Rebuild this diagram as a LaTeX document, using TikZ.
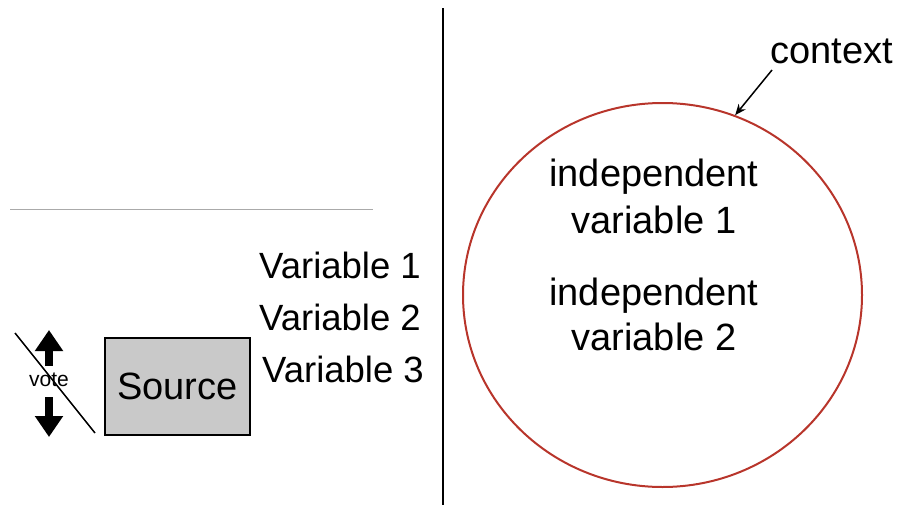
\documentclass[tikz,border=0pt]{standalone}
\usepackage{fontspec}
\setmainfont{Liberation Sans}
\usetikzlibrary{arrows.meta,shapes.geometric}
\definecolor{ctxred}{HTML}{B8352B}
\definecolor{srcgray}{HTML}{C9C9C9}
\definecolor{rulegray}{HTML}{AAAAAA}
\begin{document}
\begin{tikzpicture}[x=1pt,y=-1pt,
  lbl/.style={inner sep=0pt, font=\fontsize{38}{47}\selectfont},
  varlbl/.style={inner sep=0pt, font=\fontsize{36.5}{52}\selectfont, align=left},
  bigarrow/.style={-{Triangle[length=21pt,width=27pt]}, line width=7.5pt},
  thinline/.style={line width=1.5pt}]
\useasboundingbox (0,0) rectangle (899,506);
% separators
\draw[line width=2pt] (443,8) -- (443,505);
\draw[rulegray, line width=1pt] (10,209) -- (373,209);
% source box
\node[draw=black, line width=1.5pt, fill=srcgray, minimum width=145pt, minimum height=97pt,
      inner sep=0pt, font=\fontsize{38}{46}\selectfont] (src) at (177.5,386.5) {Source};
% vote
\node[inner sep=0pt, anchor=base, font=\fontsize{21}{25}\selectfont] (vote) at (49,386.7) {vote};
\coordinate (upbase) at (49,366);
\coordinate (uptip) at (49,330);
\coordinate (dnbase) at (49,397);
\coordinate (dntip) at (49,437);
\draw[bigarrow] (upbase) -- (uptip);
\draw[bigarrow] (dnbase) -- (dntip);
\coordinate (slashA) at (15,333);
\coordinate (slashB) at (95,433);
\draw[thinline] (slashA) -- (slashB);
% variables
\node[varlbl, anchor=base west] (vars) at (259,382) {Variable 1\\Variable 2\\\hspace*{3pt}Variable 3};
% context ellipse
\node[draw=ctxred, line width=2pt, ellipse, minimum width=399pt, minimum height=384pt, inner sep=0pt] (ctx) at (662.5,295) {};
\node[lbl, anchor=base, align=center] (iv1) at (654,233) {independent\\variable 1};
\node[lbl, anchor=base, align=center, font=\fontsize{38}{45}\selectfont] (iv2) at (654,350) {independent\\variable 2};
\node[lbl, anchor=base west] (context) at (770,63) {context};
\coordinate (cstart) at (772,70);
\draw[thinline, -{Stealth[length=11pt,width=9pt]}] (cstart) -- (ctx.68.8);
\end{tikzpicture}
\end{document}
